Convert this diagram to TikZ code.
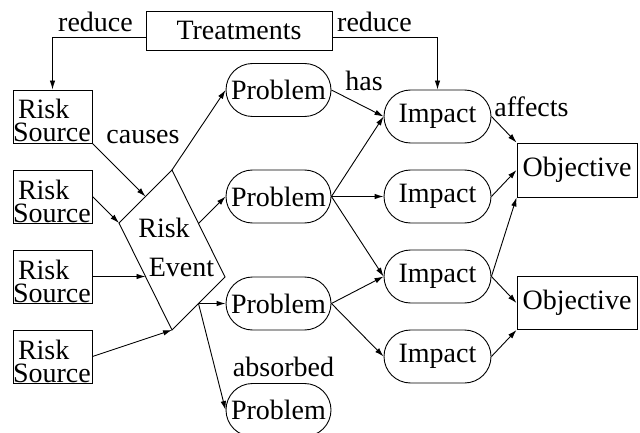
\documentclass[tikz,border=0pt]{standalone}
\usepackage{fontspec}
\setmainfont{Liberation Serif}
\usetikzlibrary{shapes.misc,arrows.meta}
\begin{document}
\begin{tikzpicture}[x=1pt,y=-1pt,
  every node/.style={font=\fontsize{28}{23}\selectfont, inner sep=0pt},
  sqbox/.style={draw, line width=0.9pt, rectangle},
  srcbox/.style={sqbox, minimum width=79pt, minimum height=53pt, text width=79pt, align=left, text height=20pt, text depth=15pt},
  pill/.style={draw, line width=0.9pt, rounded rectangle, minimum height=53pt},
  conn/.style={line width=0.9pt, -{Latex[length=9pt,width=5.5pt]}},
  lbl/.style={anchor=base}
]
\useasboundingbox (0,0) rectangle (640,433);

% Treatments
\node[sqbox, minimum width=186pt, minimum height=39pt] (tr) at (239,30.5) {Treatments};

% Risk sources
\node[srcbox] (rs1) at (52.5,116.5) {\hspace*{5pt}Risk\\Source};
\node[srcbox] (rs2) at (52.5,196.5) {\hspace*{5pt}Risk\\Source};
\node[srcbox] (rs3) at (52.5,276.5) {\hspace*{5pt}Risk\\Source};
\node[srcbox] (rs4) at (52.5,356.5) {\hspace*{5pt}Risk\\Source};

% Risk event (parallelogram)
\coordinate (ret) at (172,170);
\coordinate (rel) at (119,223);
\coordinate (rer) at (225,277);
\coordinate (reb) at (172,330);
\coordinate (retl) at (145.5,196.5);
\coordinate (rell) at (145.5,276.5);
\coordinate (retr) at (198.5,223.5);
\coordinate (rebr) at (198.5,303.5);
\draw[line width=0.9pt] (ret) -- (rer) -- (reb) -- (rel) -- cycle;
\node[lbl] (rerisk) at (164,237) {Risk};
\node[lbl] (reevent) at (181.5,276) {Event};

% Problems
\node[pill, minimum width=105pt] (p1) at (278.5,90) {Problem};
\node[pill, minimum width=105pt] (p2) at (278.5,196.5) {Problem};
\node[pill, minimum width=105pt] (p3) at (278.5,303.5) {Problem};
\node[pill, minimum width=105pt] (p4) at (278.5,410) {Problem};

% Impacts
\node[pill, minimum width=107pt] (i1) at (437.5,116.5) {Impact};
\node[pill, minimum width=107pt] (i2) at (437.5,196.5) {Impact};
\node[pill, minimum width=107pt] (i3) at (437.5,276.5) {Impact};
\node[pill, minimum width=107pt] (i4) at (437.5,356.5) {Impact};

% Objectives
\node[sqbox, minimum width=120pt, minimum height=54pt] (o1) at (577,170) {Objective};
\node[sqbox, minimum width=120pt, minimum height=53pt] (o2) at (577,303) {Objective};

% Labels
\node[lbl] (lred1) at (95.5,32) {reduce};
\node[lbl] (lred2) at (374.5,32) {reduce};
\node[lbl] (lcause) at (143,143) {causes};
\node[lbl] (lhas) at (364,91) {has};
\node[lbl] (laff) at (531.5,117) {affects};
\node[lbl] (labs) at (283.5,376) {absorbed};

% Connectors
\draw[conn] ([yshift=-6.5pt]tr.west) -| (rs1.north);
\draw[conn] ([yshift=-6.5pt]tr.east) -| (i1.north);

\draw[conn] (rs1.south east) -- (retl);
\draw[conn] (rs2.east) -- (rel);
\draw[conn] (rs3.east) -- (rell);
\draw[conn] (rs4.east) -- (reb);

\draw[conn] (ret) -- (p1.west);
\draw[conn] (retr) -- (p2.west);
\draw[conn] (rebr) -- (p3.west);
\draw[conn] (rebr) -- (p4.west);

\draw[conn] (p1.east) -- (i1.west);
\draw[conn] (p2.east) -- (i1.west);
\draw[conn] (p2.east) -- (i2.west);
\draw[conn] (p2.east) -- (i3.west);
\draw[conn] (p3.east) -- (i3.west);
\draw[conn] (p3.east) -- (i4.west);

\draw[conn] (i1.east) -- (o1.north west);
\draw[conn] (i2.east) -- (o1.west);
\draw[conn] (i3.east) -- (o1.south west);
\draw[conn] (i3.east) -- (o2.west);
\draw[conn] (i4.east) -- (o2.south west);
\end{tikzpicture}
\end{document}
